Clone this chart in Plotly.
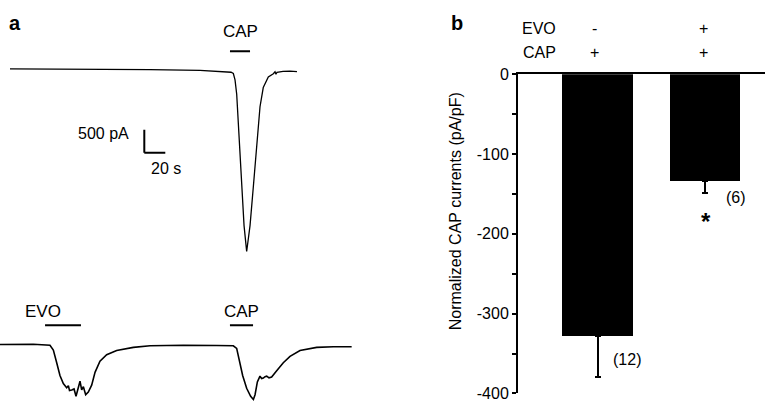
import plotly.graph_objects as go

W, H = 767, 412
FONT = "Arial, Liberation Sans, sans-serif"

# ---------------- Panel a data (time in s, current in pA relative to baseline) ----------------
top_t = [0, 38.1, 85.7, 133.3, 181, 204.8, 210.5, 212.7, 214.3, 215.9, 218.4, 220.7, 222.9, 225.4,
         226.7, 228.6, 231.7, 235, 238.1, 241.2, 246, 250.8, 252.4, 253.3, 254.3, 260, 266.7, 273.3]
top_i = [0, -2, -8, -17, -31, -52, -73, -100, -240, -552, -1594, -2635, -3406, -3969,
         -3781, -3406, -2573, -1594, -823, -406, -177, -104, -62, -115, -73, -56, -48, -58]

bot_t = [0, 31.7, 47.6, 50.8, 54, 57.1, 60.3, 63.5, 65.1, 66.2, 68.3, 70.5, 72.4, 74.6, 76.2, 77.8,
         79.4, 81.6, 84.1, 87.3, 90.5, 95.2, 101.6, 111.1, 127, 142.9, 174.6, 206.4, 222.2, 225.4,
         227.9, 231.1, 234.9, 238.7, 241.3, 242.9, 245.1, 247.6, 249.2, 250.8, 252.4, 254, 256.2,
         258.7, 263.5, 269.8, 276.2, 285.7, 301.6, 317.5, 334.9]
bot_i = [0, 6, -15, -119, -396, -673, -848, -938, -896, -1000, -986, -965, -1125, -917, -798, -986,
         -917, -1090, -1035, -882, -604, -361, -223, -131, -63, -27, -15, -21, -27, -83,
         -327, -673, -951, -1125, -1194, -1090, -813, -688, -740, -729, -700, -688, -725,
         -708, -569, -396, -257, -131, -63, -48, -48]

# drug application periods (s)
top_cap = [209.5, 228.6]
bot_evo = [42.9, 77.1]
bot_cap = [219.0, 241.0]

# ---------------- Panel b data ----------------
groups = [0, 1]
means = [-328, -134]
sem = [52, 15]
n_labels = ["(12)", "(6)"]
evo_row = ["-", "+"]
cap_row = ["+", "+"]
y_ticks = [0, -100, -200, -300, -400]


def px(x):
    return x / W


def py(y):
    return 1 - y / H


fig = go.Figure()

fig.add_trace(go.Scatter(x=top_t, y=top_i, mode="lines", line=dict(color="black", width=1.3),
                         xaxis="x2", yaxis="y2", showlegend=False, hoverinfo="skip"))
fig.add_trace(go.Scatter(x=bot_t, y=bot_i, mode="lines", line=dict(color="black", width=1.6),
                         xaxis="x3", yaxis="y3", showlegend=False, hoverinfo="skip"))

fig.add_trace(go.Bar(x=groups, y=means, width=0.66, marker=dict(color="black", line=dict(width=0)),
                     error_y=dict(type="data", symmetric=False, array=[0, 0], arrayminus=sem,
                                  color="black", thickness=2, width=3),
                     xaxis="x", yaxis="y", showlegend=False))

shapes = []
shapes.append(dict(type="line", xref="x2", yref="y2", x0=top_cap[0], x1=top_cap[1], y0=385, y1=385,
                   line=dict(color="black", width=2)))
shapes.append(dict(type="line", xref="x3", yref="y3", x0=bot_evo[0], x1=bot_evo[1], y0=417, y1=417,
                   line=dict(color="black", width=2)))
shapes.append(dict(type="line", xref="x3", yref="y3", x0=bot_cap[0], x1=bot_cap[1], y0=417, y1=417,
                   line=dict(color="black", width=2)))
sb_t, sb_i = 127.9, -1323
shapes.append(dict(type="line", xref="x2", yref="y2", x0=sb_t, x1=sb_t, y0=sb_i, y1=sb_i - 500,
                   line=dict(color="black", width=2)))
shapes.append(dict(type="line", xref="x2", yref="y2", x0=sb_t, x1=sb_t + 20, y0=sb_i - 500, y1=sb_i - 500,
                   line=dict(color="black", width=2)))

ann = []


def txt(x, y, s, size=16, bold=False, xanchor="center"):
    ann.append(dict(x=px(x), y=py(y), xref="paper", yref="paper", text=("<b>%s</b>" % s) if bold else s,
                    showarrow=False, xanchor=xanchor, yanchor="middle",
                    font=dict(family=FONT, size=size, color="black")))


txt(15, 16, "a", size=20, bold=True)
txt(457, 16, "b", size=20, bold=True)
txt(240, 24, "CAP", size=17)
txt(131, 131, "500 pA", xanchor="right")
txt(166, 167, "20 s")
txt(43, 317, "EVO", size=17)
txt(241, 317, "CAP", size=17)

txt(539, 21, "EVO")
txt(539, 46, "CAP")
for xc, e, c in zip([594, 703], evo_row, cap_row):
    txt(xc, 21, e)
    txt(xc, 46, c)

ann.append(dict(x=px(455), y=py(212), xref="paper", yref="paper", text="Normalized CAP currents (pA/pF)",
                textangle=-90, showarrow=False, font=dict(family=FONT, size=16, color="black")))

ann.append(dict(x=0.274, y=-358, xref="x", yref="y", text=n_labels[0], showarrow=False,
                font=dict(family=FONT, size=16, color="black")))
ann.append(dict(x=1.288, y=-155, xref="x", yref="y", text=n_labels[1], showarrow=False,
                font=dict(family=FONT, size=16, color="black")))
ann.append(dict(x=1.008, y=-185, xref="x", yref="y", text="<b>*</b>", showarrow=False,
                font=dict(family=FONT, size=24, color="black")))

fig.update_layout(
    width=W, height=H, margin=dict(l=0, r=0, t=0, b=0),
    paper_bgcolor="white", plot_bgcolor="white",
    font=dict(family=FONT, size=16, color="black"),
    shapes=shapes, annotations=ann,
    bargap=0,
    xaxis=dict(domain=[px(518), px(765)], range=[-0.7395, 1.558], side="top", anchor="y",
               showline=True, linecolor="black", linewidth=2, showticklabels=False, ticks="",
               showgrid=False, zeroline=False, fixedrange=True),
    yaxis=dict(domain=[py(402), py(69)], range=[-400, 0], anchor="x",
               showline=True, linecolor="black", linewidth=2,
               tickvals=y_ticks, ticktext=[str(v) for v in y_ticks],
               ticks="outside", ticklen=4, tickwidth=2, tickcolor="black",
               minor=dict(tickvals=[-50, -150, -250, -350], ticks="outside", ticklen=4,
                          tickwidth=2, tickcolor="black"),
               tickfont=dict(family=FONT, size=16, color="black"),
               showgrid=False, zeroline=False),
    xaxis2=dict(domain=[0, px(383.5)], range=[-10 / 1.05, (383.5 - 10) / 1.05], anchor="y2",
                visible=False),
    yaxis2=dict(domain=[py(280), 1], range=[-(280 - 63.5) * 20.833, 63.5 * 20.833], anchor="x2",
                visible=False),
    xaxis3=dict(domain=[0, px(383.5)], range=[0, 383.5 / 1.05], anchor="y3", visible=False),
    yaxis3=dict(domain=[0, py(290)], range=[-61 * 20.833, 61 * 20.833], anchor="x3", visible=False),
)

fig.write_html("out.html", post_script="document.body.style.margin='0';",
               config={"displayModeBar": False})
